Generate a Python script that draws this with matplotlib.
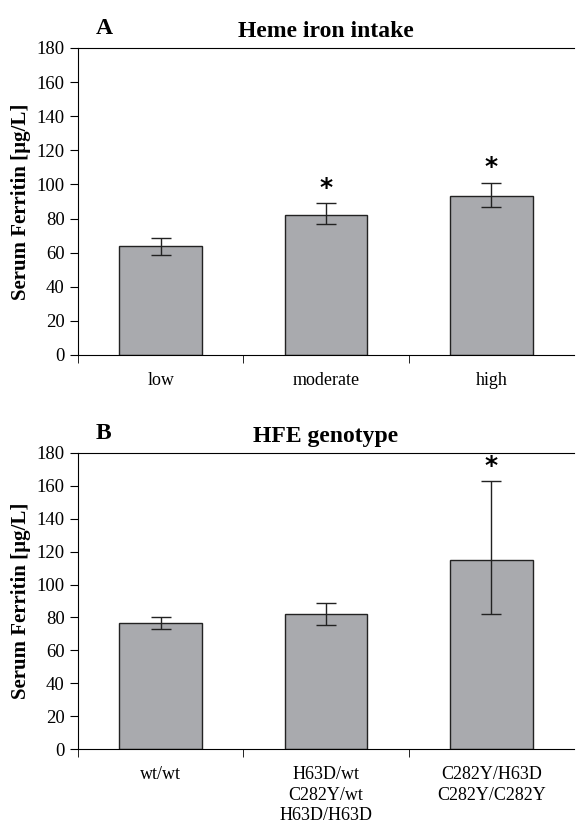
import matplotlib
matplotlib.use('Agg')
import matplotlib.pyplot as plt

# panel A: heme iron intake
heme_labels = ['low', 'moderate', 'high']
heme_means = [64, 82, 93.5]
heme_low = [58.5, 76.5, 86.5]
heme_high = [68.5, 89, 101]
heme_sig = [False, True, True]

# panel B: HFE genotype
hfe_labels = ['wt/wt', 'H63D/wt\nC282Y/wt\nH63D/H63D', 'C282Y/H63D\nC282Y/C282Y']
hfe_means = [76.5, 82, 115]
hfe_low = [73, 75.5, 82]
hfe_high = [80.5, 88.5, 163]
hfe_sig = [False, False, True]

plt.rcParams['font.family'] = ['Liberation Serif', 'DejaVu Serif']

fig = plt.figure(figsize=(5.78, 8.23), dpi=100)


def draw_panel(rect, letter, title, labels, means, lo, hi, sig):
    ax = fig.add_axes(rect)
    x = list(range(len(labels)))
    err = [[m - l for m, l in zip(means, lo)], [h - m for m, h in zip(means, hi)]]
    ax.bar(x, means, width=0.5, color='#a9aaae', edgecolor='#222222', linewidth=1.0, zorder=2)
    ax.errorbar(x, means, yerr=err, fmt='none', ecolor='#222222', elinewidth=1.0,
                capsize=7, capthick=1.0, zorder=3)
    for xi, h, s in zip(x, hi, sig):
        if s:
            ax.text(xi, h + 2, '*', ha='center', va='bottom', fontsize=18, fontweight='bold',
                    family='DejaVu Sans')
    ax.set_xlim(-0.5, 2.5)
    ax.set_ylim(0, 180)
    ax.set_yticks(range(0, 181, 20))
    ax.set_xticks(x)
    ax.set_xticklabels(labels, fontsize=13, linespacing=1.3)
    ax.set_xticks([-0.5, 0.5, 1.5], minor=True)
    ax.tick_params(axis='x', which='major', length=0, pad=12)
    ax.tick_params(axis='x', which='minor', length=6, direction='out')
    ax.tick_params(axis='y', labelsize=13.5, length=6, direction='out')
    ax.spines['right'].set_visible(False)
    ax.set_ylabel('Serum Ferritin [\u00b5g/L]', fontsize=15, fontweight='bold', labelpad=4)
    ax.set_title(title, fontsize=17, fontweight='bold', pad=8)
    ax.text(0.036, 1.03, letter, transform=ax.transAxes, fontsize=17, fontweight='bold',
            va='bottom', ha='left')
    return ax


draw_panel([0.135, 0.5687, 0.858, 0.373], 'A', 'Heme iron intake',
           heme_labels, heme_means, heme_low, heme_high, heme_sig)
draw_panel([0.135, 0.0899, 0.858, 0.3597], 'B', 'HFE genotype',
           hfe_labels, hfe_means, hfe_low, hfe_high, hfe_sig)

fig.savefig('out.png', dpi=100)
